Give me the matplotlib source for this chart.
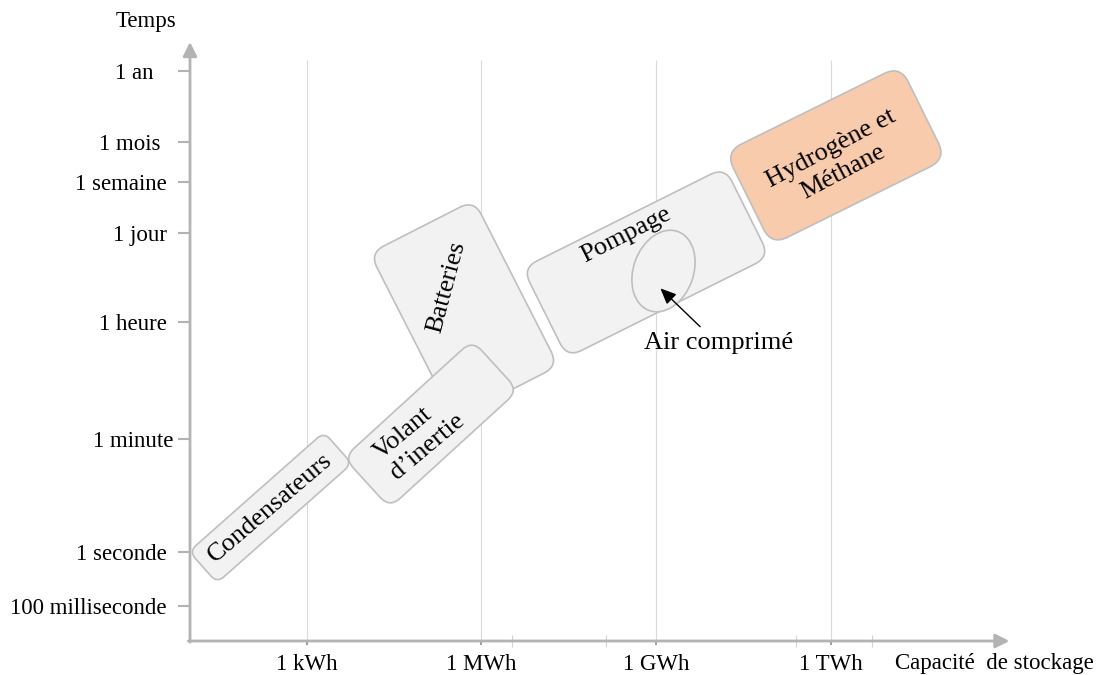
import matplotlib
matplotlib.use("Agg")
import matplotlib.pyplot as plt
from matplotlib.patches import FancyBboxPatch, Ellipse
from matplotlib.transforms import Affine2D, ScaledTranslation

# ---------------- data (log10 units) ----------------
time_labels = ["100 milliseconde", "1 seconde", "1 minute", "1 heure",
               "1 jour", "1 semaine", "1 mois", "1 an"]
time_pos = [-0.84, 0.0, 1.76, 3.58, 4.97, 5.77, 6.39, 7.50]      # log10(s)

cap_labels = ["1 kWh", "1 MWh", "1 GWh", "1 TWh"]
cap_pos = [3, 6, 9, 12]                                           # log10(Wh)
cap_minor = [6.52, 8.14, 11.40, 12.71]

tech_names = ["Condensateurs", "Volant\nd\u2019inertie", "Batteries",
              "Pompage", "Hydrog\u00e8ne et\nM\u00e9thane"]
tech_cap = [2.378, 5.135, 5.702, 8.828, 12.088]    # centre, log10(Wh)
tech_time = [0.689, 1.991, 3.777, 4.511, 6.180]    # centre, log10(s)

air_name = "Air comprim\u00e9"
air_cap, air_time = 9.128, 4.377

# ---------------- geometry / style ----------------
box_len = [180, 174, 117, 226, 195]       # px
box_wid = [42, 68, 186, 100, 104]
box_ang = [41.5, 42.4, 27.0, 26.5, 26.3]
box_rad = [9, 14, 16, 16, 18]
box_fill = ["#f2f2f2", "#f2f2f2", "#f2f2f2", "#f2f2f2", "#f8cbad"]
draw_order = [2, 1, 0, 3, 4]

label_cap = [2.378, 4.93, 5.40, 8.476, 12.109]
label_time = [0.689, 1.80, 4.13, 4.938, 6.108]
label_rot = [40.5, 40.0, 75.0, 27.0, 28.0]
label_align = ["center", "left", "center", "center", "center"]
ytick_shift_px = [0, 0, 6, 0, 0, 0, -6, -13]

DPI = 100
W, H = 1100, 675
plt.rcParams['font.family'] = ['Liberation Serif', 'DejaVu Serif']

fig = plt.figure(figsize=(W / DPI, H / DPI), dpi=DPI)
ax = fig.add_axes([190 / W, (H - 641) / H, (1007 - 190) / W, (641 - 42) / H])
ax.set_xlim(0.9955, 15.028)
ax.set_ylim(-1.392, 7.948)
for s in ax.spines.values():
    s.set_visible(False)

axis_color = "#b3b3b3"
arrow_kw = dict(arrowstyle='-|>,head_length=0.7,head_width=0.35', color=axis_color,
                lw=2.0, shrinkA=0, shrinkB=0, mutation_scale=12)
ax.annotate('', xy=(0, 1), xytext=(0, -0.002), xycoords='axes fraction',
            arrowprops=arrow_kw, annotation_clip=False)
ax.annotate('', xy=(1.003, 0), xytext=(-0.002, 0), xycoords='axes fraction',
            arrowprops=arrow_kw, annotation_clip=False)

# grid lines
ax.vlines(cap_pos, ax.get_ylim()[0], 7.667, color="#dadada", lw=0.8, zorder=0)

# ticks
ax.set_yticks(time_pos, time_labels)
ax.tick_params(axis='y', direction='out', length=8.6, width=1.5, color=axis_color,
               pad=8, labelsize=16.5)
ax.set_xticks(cap_pos, cap_labels)
ax.set_xticks(cap_minor, minor=True)
ax.tick_params(axis='x', which='major', direction='out', length=3, width=1.5,
               color="#a0a0a0", pad=6, labelsize=16.5)
ax.tick_params(axis='x', which='minor', direction='inout', length=9, width=0.8,
               color="#d4d4d4")
for lab, dx in zip(ax.get_yticklabels(), ytick_shift_px):
    if dx:
        lab.set_transform(lab.get_transform()
                          + ScaledTranslation(dx / DPI, 0, fig.dpi_scale_trans))


def place(cx, cy, ang):
    return Affine2D().rotate_deg(ang) + ScaledTranslation(cx, cy, ax.transData)


for i in draw_order:
    L, Wd = box_len[i], box_wid[i]
    p = FancyBboxPatch((-L / 2, -Wd / 2), L, Wd,
                       boxstyle=f"round,pad=0,rounding_size={box_rad[i]}",
                       transform=place(tech_cap[i], tech_time[i], box_ang[i]),
                       facecolor=box_fill[i], edgecolor="#bfbfbf", lw=1.2,
                       clip_on=False, zorder=2 + draw_order.index(i))
    ax.add_patch(p)
    if i == 3:
        e = Ellipse((0, 0), 84, 60, transform=place(air_cap, air_time, 70),
                    facecolor="#f2f2f2", edgecolor="#bfbfbf", lw=1.2,
                    clip_on=False, zorder=2 + draw_order.index(i) + 0.5)
        ax.add_patch(e)

for i in range(len(tech_names)):
    ax.text(label_cap[i], label_time[i], tech_names[i], rotation=label_rot[i],
            rotation_mode='anchor', ha='center', va='center',
            multialignment=label_align[i], fontsize=19, linespacing=1.25,
            zorder=20, clip_on=False)

# air comprimé label + arrow
ax.annotate('', xy=(9.074, 4.107), xytext=(9.757, 3.509),
            arrowprops=dict(arrowstyle='-|>,head_length=0.8,head_width=0.35',
                            color='black', lw=1.0, shrinkA=0, shrinkB=0,
                            mutation_scale=12), zorder=21)
ax.text(10.082, 3.254, air_name, ha='center', va='center', fontsize=19, zorder=21)

fig.text(146 / W, 1 - 21 / H, "Temps", ha='center', va='center', fontsize=16.5)
fig.text(895 / W, 1 - 663 / H, "Capacit\u00e9  de stockage", ha='left', va='center',
         fontsize=16.5)

fig.savefig("out.png", dpi=DPI, facecolor="white")
